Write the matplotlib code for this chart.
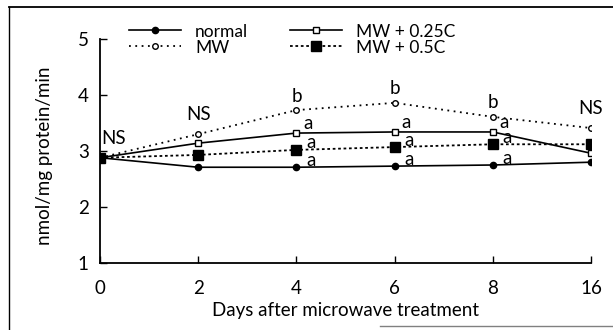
import matplotlib
matplotlib.use("Agg")
import matplotlib.pyplot as plt
from matplotlib.lines import Line2D

plt.rcParams['font.family'] = ['Lato', 'DejaVu Sans']

days = ["0", "2", "4", "6", "8", "16"]
normal = [2.88, 2.71, 2.71, 2.73, 2.75, 2.80]
mw = [2.88, 3.30, 3.73, 3.86, 3.61, 3.41]
mw_025c = [2.88, 3.14, 3.32, 3.34, 3.34, 2.96]
mw_05c = [2.88, 2.93, 3.02, 3.07, 3.12, 3.12]

# significance letters per day (index into days) for each series
ns_days = [0, 1, 5]
mw_letters = {2: "b", 3: "b", 4: "b"}
a_letters_025c = {2: "a", 3: "a", 4: "a"}
a_letters_05c = {2: "a", 3: "a", 4: "a"}
a_letters_normal = {2: "a", 3: "a", 4: "a"}

W, H = 613, 330
fig = plt.figure(figsize=(W / 100, H / 100), dpi=100)
ax = fig.add_axes([100 / W, 1 - 263 / H, 491 / W, 224 / H])

x = list(range(len(days)))
ax.plot(x, normal, '-', color='black', lw=1.2, marker='o', ms=4.5,
        mfc='black', mec='black', label='normal')
ax.plot(x, mw, linestyle=(0, (1, 2.5)), color='black', lw=1.3, marker='o', ms=4,
        mfc='white', mec='black', mew=1, label='MW')
ax.plot(x, mw_025c, '-', color='black', lw=1.2, marker='s', ms=4,
        mfc='white', mec='black', mew=1, label='MW + 0.25C')
ax.plot(x, mw_05c, linestyle=(0, (1.5, 1.5)), color='black', lw=1.3, marker='s', ms=6.5,
        mfc='black', mec='black', label='MW + 0.5C')

fs = 13.5
for d in ns_days:
    ax.annotate("NS", (x[d], mw[d]), xytext=(10 if d == 0 else 0, 8),
                textcoords='offset points', ha='center', va='bottom', fontsize=fs)
for d, t in mw_letters.items():
    ax.annotate(t, (x[d], mw[d]), xytext=(0, 4), textcoords='offset points',
                ha='center', va='bottom', fontsize=fs)
for d, t in a_letters_025c.items():
    ax.annotate(t, (x[d], mw_025c[d]), xytext=(5, 7), textcoords='offset points',
                ha='left', va='center', fontsize=fs)
for d, t in a_letters_05c.items():
    ax.annotate(t, (x[d], mw_05c[d]), xytext=(7, 5), textcoords='offset points',
                ha='left', va='center', fontsize=fs)
for d, t in a_letters_normal.items():
    ax.annotate(t, (x[d], normal[d]), xytext=(7, 4.5), textcoords='offset points',
                ha='left', va='center', fontsize=fs)

ax.set_xlim(0, 5)
ax.set_ylim(1, 5)
ax.set_xticks(x)
ax.set_xticklabels(days)
ax.set_yticks([1, 2, 3, 4, 5])
ax.tick_params(direction='in', length=5, width=1, labelsize=fs, pad=8)
ax.tick_params(axis='x', pad=12)
for s in ['top', 'right']:
    ax.spines[s].set_visible(False)
for s in ['left', 'bottom']:
    ax.spines[s].set_linewidth(1.3)
ax.set_xlabel("Days after microwave treatment", fontsize=fs, labelpad=4)
ax.set_ylabel("nmol/mg protein/min", fontsize=fs)
ax.yaxis.set_label_coords(-0.096, 0.48)

leg = ax.legend(ncol=2, loc='upper left', bbox_to_anchor=(0.045, 1.10),
                frameon=False, fontsize=12.5, handlelength=3.0, columnspacing=2.4,
                labelspacing=0.0, handletextpad=0.8, borderaxespad=0)

# scanned outer frame
fig.add_artist(Line2D([9 / W, 1], [1 - 7 / H, 1 - 7 / H], color='black', lw=1.3))
fig.add_artist(Line2D([9 / W, 9 / W], [1 - 7 / H, 0], color='black', lw=1.0))
fig.add_artist(Line2D([380 / W, 1], [1 - 326 / H, 1 - 326 / H], color='gray', lw=1.0))

fig.savefig("out.png", dpi=100)
